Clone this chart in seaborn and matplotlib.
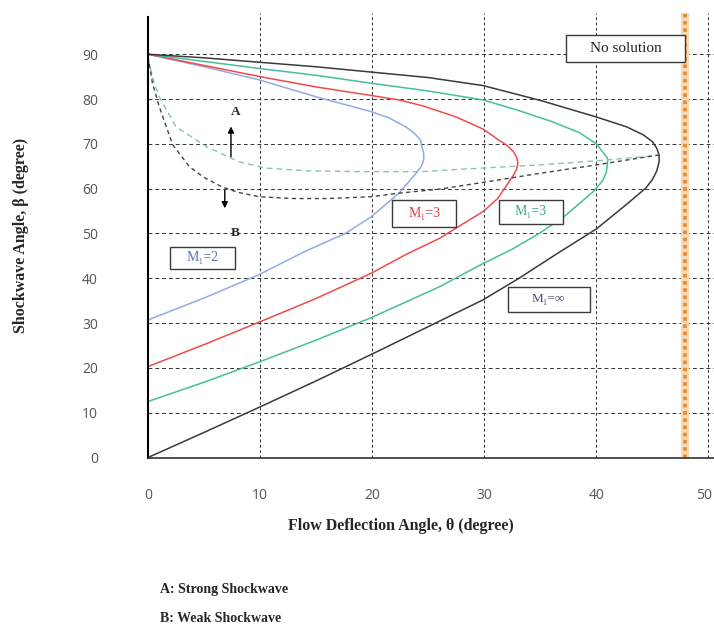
import matplotlib
matplotlib.use("Agg")
import matplotlib.pyplot as plt
import matplotlib.transforms as mtransforms
from matplotlib.patches import Rectangle
import seaborn as sns

# Curves: deflection angle theta vs shock angle beta (degrees)
# each list runs from the weak branch start, through the max deflection, back to (0, 90)
M2_THETA = [0, 5, 9.9, 14, 17.6, 19.9, 22.4, 23.9, 24.4, 24.6, 24.6, 24.5, 24.3, 23.8, 23.0, 21.5,
            19.9, 15, 9.9, 5, 0]
M2_BETA = [30.7, 35.6, 40.8, 46.0, 50.0, 53.7, 59.0, 63.4, 65.0, 66.5, 67.8, 68.8, 70.9, 72.3, 73.8,
           75.8, 77.2, 80.5, 84.3, 87.2, 90]

M3_THETA = [0, 5, 10, 15, 19.9, 23, 26, 28, 29.9, 31.2, 31.9, 32.6, 32.9, 33.0, 32.9, 32.6, 32.0,
            31.2, 29.9, 27.5, 24.5, 22.4, 19.9, 15, 10, 5, 0]
M3_BETA = [20.3, 25.2, 30.3, 35.5, 41.1, 45.3, 48.9, 52.0, 54.9, 57.8, 60.4, 63.0, 64.4, 65.7, 67.0,
           68.3, 69.7, 71.0, 73.3, 76.0, 78.5, 79.8, 80.8, 82.7, 85.0, 87.5, 90]

M5_THETA = [0, 5, 10, 15, 20, 26, 29.9, 32.5, 34.9, 37, 38.5, 39.8, 40.6, 40.9, 41.0, 41.0, 40.7,
            40, 38.5, 36, 33, 29.9, 25, 20, 15, 10, 5, 0]
M5_BETA = [12.5, 16.8, 21.4, 26.2, 31.3, 38.1, 43.3, 46.5, 50.0, 53.5, 56.7, 59.5, 61.9, 63.8, 65.7,
           66.8, 67.8, 70.0, 72.5, 75.0, 77.5, 79.8, 81.8, 83.5, 85.3, 86.8, 88.4, 90]

MINF_THETA = [0, 5, 10, 15, 20, 25, 29.9, 33.1, 36.5, 40, 42.7, 44.4, 45.0, 45.4, 45.6, 45.6, 45.4,
              45.0, 44.2, 42.7, 40, 35, 29.9, 25, 20, 15, 10, 5, 0]
MINF_BETA = [0, 5.6, 11.3, 17.1, 23.1, 29.2, 35.2, 40.0, 45.5, 51.0, 56.5, 60.1, 62.0, 64.0, 66.0,
             67.5, 69.0, 70.5, 72.0, 73.8, 76.0, 79.7, 83.0, 84.8, 86.0, 87.2, 88.2, 89.2, 90]

# dashed separation lines (strong above / weak below)
DASH_BLACK_THETA = [0, 0.4, 1, 2.2, 3.7, 5, 6.6, 8, 9.9, 13, 16, 19.9, 22.4, 26, 29.9, 34.9, 40, 45, 45.6]
DASH_BLACK_BETA = [89.5, 83.5, 78.3, 69.8, 64.9, 62.5, 60.4, 59.2, 58.2, 57.8, 57.8, 58.2, 59.0, 59.9,
                   61.4, 63.4, 65.3, 67.3, 67.5]
DASH_TEAL_THETA = [0, 0.5, 1, 2.5, 5.2, 8.1, 10.5, 14, 18.8, 24.5, 26.9, 29.9, 34.9, 40, 45, 45.6]
DASH_TEAL_BETA = [89.0, 84.0, 80.5, 73.8, 69.4, 66.0, 64.6, 64.0, 63.8, 63.8, 64.2, 64.6, 65.3, 66.2,
                  67.3, 67.5]

LIMIT_THETA = 47.9
X_TICKS = [0, 10, 20, 30, 40, 50]
Y_TICKS = [0, 10, 20, 30, 40, 50, 60, 70, 80, 90]

SERIF = ["Liberation Serif", "DejaVu Serif"]

sns.set_style("white")
plt.rcParams["font.family"] = SERIF

fig = plt.figure(figsize=(7.14, 6.35), dpi=100)
ax = fig.add_axes([0.2073, 0.2795, 0.7927, 0.700])

# gridlines
for yv in Y_TICKS[1:]:
    ax.axhline(yv, color="#333333", lw=0.7, ls=(0, (4, 3)), zorder=0)
for xv in X_TICKS[1:]:
    ax.axvline(xv, color="#333333", lw=0.7, ls=(0, (3, 2.5)), zorder=0)

curves = [
    (M2_THETA, M2_BETA, "#95a9e3"),
    (M3_THETA, M3_BETA, "#ee4b4b"),
    (M5_THETA, M5_BETA, "#45bf9c"),
    (MINF_THETA, MINF_BETA, "#3a3a3a"),
]
for th, be, col in curves:
    sns.lineplot(x=th, y=be, sort=False, estimator=None, color=col, lw=1.1, ax=ax)

sns.lineplot(x=DASH_TEAL_THETA, y=DASH_TEAL_BETA, sort=False, estimator=None,
             color="#8cc2b4", lw=1.0, ax=ax)
ax.lines[-1].set_linestyle((0, (4, 3)))
sns.lineplot(x=DASH_BLACK_THETA, y=DASH_BLACK_BETA, sort=False, estimator=None,
             color="#444444", lw=1.0, ax=ax)
ax.lines[-1].set_linestyle((0, (3, 2.5)))

# orange limit line
ax.axvline(LIMIT_THETA, color="#f7d9b5", lw=6, zorder=1)
ax.axvline(LIMIT_THETA, color="#e8892b", lw=2.6, ls=(0, (1, 1)), zorder=2)

ax.set_xlim(0, 50.5)
ax.set_ylim(0, 99.2)
ax.set_xticks(X_TICKS)
ax.set_yticks(Y_TICKS)
ax.tick_params(axis="both", length=0, labelsize=10, labelcolor="#555555")
ax.tick_params(axis="y", pad=36)
ax.tick_params(axis="x", pad=22)
for lab in ax.get_xticklabels() + ax.get_yticklabels():
    lab.set_family(["Open Sans", "DejaVu Sans"])
# last x label sits on the right edge, nudge it inside
last = ax.get_xticklabels()[-1]
last.set_transform(last.get_transform() + mtransforms.ScaledTranslation(-4 / 100, 0, fig.dpi_scale_trans))

for side in ["top", "right"]:
    ax.spines[side].set_visible(False)
ax.spines["left"].set_color("black")
ax.spines["left"].set_linewidth(1.5)
ax.spines["left"].set_bounds(0, 98.2)
ax.spines["bottom"].set_color("#333333")
ax.spines["bottom"].set_linewidth(1.2)

ax.set_xlabel("Flow Deflection Angle, θ (degree)", fontsize=11.5, fontweight="bold")
ax.set_ylabel("Shockwave Angle, β (degree)", fontsize=11.5, fontweight="bold")
ax.xaxis.set_label_coords(0.447, -0.135)
ax.yaxis.set_label_coords(-0.21, 0.5)

# labelled boxes: (left, bottom, width, height) in data units, text, colour
boxes = [
    ((37.3, 88.2, 10.6, 6.1), "No solution", "#222222", 11),
    ((2.0, 42.1, 5.8, 4.9), "M₁=2", "#5a74a8", 10),
    ((21.8, 51.5, 5.7, 6.0), "M₁=3", "#e04040", 10),
    ((31.3, 52.1, 5.7, 5.4), "M₁=3", "#3aa888", 10),
    ((32.1, 32.5, 7.3, 5.6), "M₁=∞", "#405070", 9.5),
]
for (x0, y0, w, h), txt, col, fs in boxes:
    ax.add_patch(Rectangle((x0, y0), w, h, fc="white", ec="#3a3a3a", lw=1.0, zorder=5))
    ax.text(x0 + w / 2, y0 + h / 2, txt, fontsize=fs, color=col, ha="center", va="center", zorder=6)

# strong / weak arrows
ax.annotate("", xy=(7.4, 74.5), xytext=(7.4, 66.5),
            arrowprops=dict(arrowstyle="-|>", color="black", lw=1.0, mutation_scale=9))
ax.annotate("", xy=(6.85, 55.0), xytext=(6.85, 60.3),
            arrowprops=dict(arrowstyle="-|>", color="black", lw=1.0, mutation_scale=9))
ax.text(7.8, 77.0, "A", fontsize=9.5, fontweight="bold", ha="center", va="center")
ax.text(7.8, 50.0, "B", fontsize=9.5, fontweight="bold", ha="center", va="center")

fig.text(160 / 714, 1 - 590 / 635, "A: Strong Shockwave", fontsize=10, fontweight="bold", va="center")
fig.text(160 / 714, 1 - 618 / 635, "B: Weak Shockwave", fontsize=10, fontweight="bold", va="center")

fig.savefig("out.png", dpi=100)
